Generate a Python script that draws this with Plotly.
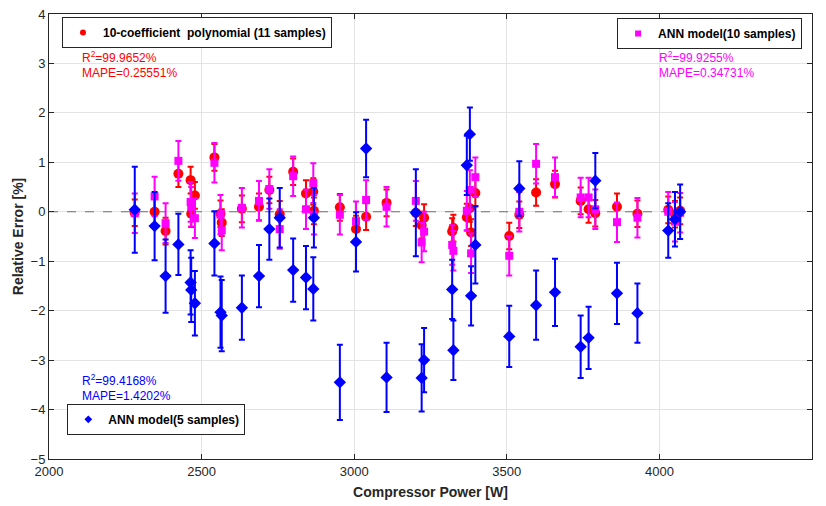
import plotly.graph_objects as go

# Compressor power of each test sample [W]
power = [2281, 2346, 2382, 2424, 2464, 2466, 2478, 2542, 2562, 2566,
         2632, 2688, 2722, 2756, 2800, 2842, 2866, 2868, 2953, 3006,
         3039, 3106, 3202, 3221, 3229, 3321, 3325, 3369, 3379, 3383,
         3397, 3508, 3541, 3596, 3658, 3742, 3768, 3790, 3861, 3928,
         4029, 4051, 4068]

# Relative error of each model [%]
err_poly = [-0.02, 0.00, -0.39, 0.77, 0.64, -0.04, 0.33, 1.10, -0.04, -0.22,
            0.06, 0.10, 0.44, -0.05, 0.81, 0.37, 0.41, 0.02, 0.09, -0.35,
            -0.10, 0.18, -0.02, -0.27, -0.12, -0.40, -0.33, -0.11, 0.07, -0.42,
            0.38, -0.49, -0.06, 0.39, 0.56, 0.22, 0.05, -0.03, 0.10, -0.04,
            0.04, -0.05, 0.02]
err_ann10 = [-0.03, 0.31, -0.23, 1.03, 0.20, 0.10, -0.13, 0.99, -0.06, -0.38,
             0.08, 0.22, 0.46, -0.35, 0.72, 0.05, 0.58, -0.06, -0.06, -0.19,
             0.24, 0.10, 0.22, -0.62, -0.40, -0.67, -0.79, 0.02, 0.44, -0.84,
             0.70, -0.89, 0.00, 0.97, 0.70, 0.29, 0.29, 0.05, -0.21, -0.12,
             0.00, -0.20, -0.02]
err_ann5 = [0.04, -0.29, -1.30, -0.66, -1.43, -1.58, -1.85, -0.64, -2.03, -2.10,
            -1.94, -1.30, -0.35, -0.12, -1.18, -1.33, -1.56, -0.12, -3.45, -0.61,
            1.28, -3.35, -0.02, -3.36, -3.00, -1.57, -2.80, 0.94, 1.57, -1.70,
            -0.67, -2.52, 0.47, -1.89, -1.63, -2.73, -2.55, 0.63, -1.65, -2.05,
            -0.38, -0.15, 0.00]

# Uncertainty half-widths [%]
unc_poly = 0.27
unc_ann10 = 0.40
unc_ann5 = [0.87, 0.69, 0.74, 0.62, 0.65, 0.65, 0.65, 0.65, 0.72, 0.72,
            0.65, 0.63, 0.62, 0.60, 0.64, 0.64, 0.64, 0.60, 0.76, 0.60,
            0.58, 0.70, 0.88, 0.68, 0.65, 0.60, 0.60, 0.60, 0.54, 0.60,
            0.78, 0.62, 0.55, 0.70, 0.68, 0.63, 0.63, 0.56, 0.62, 0.60,
            0.55, 0.55, 0.55]

labels = ["10-coefficient \u00a0polynomial (11 samples)",
          "ANN model(10 samples)",
          "ANN model(5 samples)"]
stats = [("99.9652", "0.25551"), ("99.9255", "0.34731"), ("99.4168", "1.4202")]

RED, MAG, BLUE = "#ff0000", "#ff00ff", "#0000ff"
AX = "#262626"
FONT = "Liberation Sans, Arial, sans-serif"

fig = go.Figure()

# zero reference line
fig.add_trace(go.Scatter(x=[2000, max(power) + 9], y=[0, 0], mode="lines",
                         line=dict(color="#6e6e6e", width=1, dash="dash"),
                         showlegend=False, hoverinfo="skip"))

fig.add_trace(go.Scatter(
    x=power, y=err_poly, mode="markers", showlegend=False,
    marker=dict(symbol="circle", size=10, color=RED),
    error_y=dict(type="constant", value=unc_poly, color=RED, thickness=2, width=3)))
fig.add_trace(go.Scatter(
    x=power, y=err_ann10, mode="markers", showlegend=False,
    marker=dict(symbol="square", size=8, color=MAG),
    error_y=dict(type="constant", value=unc_ann10, color=MAG, thickness=2, width=3)))
fig.add_trace(go.Scatter(
    x=power, y=err_ann5, mode="markers", showlegend=False,
    marker=dict(symbol="diamond", size=9.5, color=BLUE),
    error_y=dict(type="data", array=unc_ann5, color=BLUE, thickness=2, width=3)))

# legend entries with small markers, one legend box per model
for lab, sym, col, lg in [(labels[0], "circle", RED, "legend"),
                          (labels[1], "square", MAG, "legend2"),
                          (labels[2], "diamond", BLUE, "legend3")]:
    fig.add_trace(go.Scatter(x=[None], y=[None], mode="markers", name=lab,
                             marker=dict(symbol=sym, size=6, color=col),
                             legend=lg, showlegend=True))

legend_common = dict(bgcolor="white", bordercolor=AX, borderwidth=1,
                     font=dict(family=FONT, size=12, color="black", weight="bold"),
                     itemwidth=30, tracegroupgap=0)

# statistics text
for (r2, mape), col, x, y1, y2 in [(stats[0], RED, 0.041, 0.903, 0.867),
                                   (stats[1], MAG, 0.797, 0.903, 0.867),
                                   (stats[2], BLUE, 0.041, 0.178, 0.141)]:
    fig.add_annotation(text=f"R<sup>2</sup>={r2}%", x=x, y=y1, xref="paper", yref="paper",
                       xanchor="left", yanchor="middle", showarrow=False,
                       font=dict(family=FONT, size=12, color=col))
    fig.add_annotation(text=f"MAPE={mape}%", x=x, y=y2, xref="paper", yref="paper",
                       xanchor="left", yanchor="middle", showarrow=False,
                       font=dict(family=FONT, size=12, color=col))

axis_common = dict(showline=True, linecolor=AX, linewidth=1, mirror="ticks",
                   ticks="inside", ticklen=5, tickcolor=AX,
                   showgrid=True, gridcolor="#e3e3e3", gridwidth=1, zeroline=False,
                   automargin=False,
                   tickfont=dict(family=FONT, size=13, color=AX))

fig.update_layout(
    width=826, height=506,
    margin=dict(l=49, r=14, t=14, b=47, autoexpand=False),
    paper_bgcolor="white", plot_bgcolor="white",
    xaxis=dict(range=[2000, 4500], dtick=500,
               title=dict(text="Compressor Power [W]", standoff=9,
                          font=dict(family=FONT, size=14, color=AX, weight="bold")),
               **axis_common),
    yaxis=dict(range=[-5, 4], dtick=1,
               title=dict(text="Relative Error [%]", standoff=3,
                          font=dict(family=FONT, size=14, color=AX, weight="bold")),
               **axis_common),
    legend=dict(x=0.017, y=0.993, xanchor="left", yanchor="top", **legend_common),
    legend2=dict(x=0.987, y=0.991, xanchor="right", yanchor="top", **legend_common),
    legend3=dict(x=0.024, y=0.124, xanchor="left", yanchor="top", **legend_common),
)

fig.write_html("out.html")
